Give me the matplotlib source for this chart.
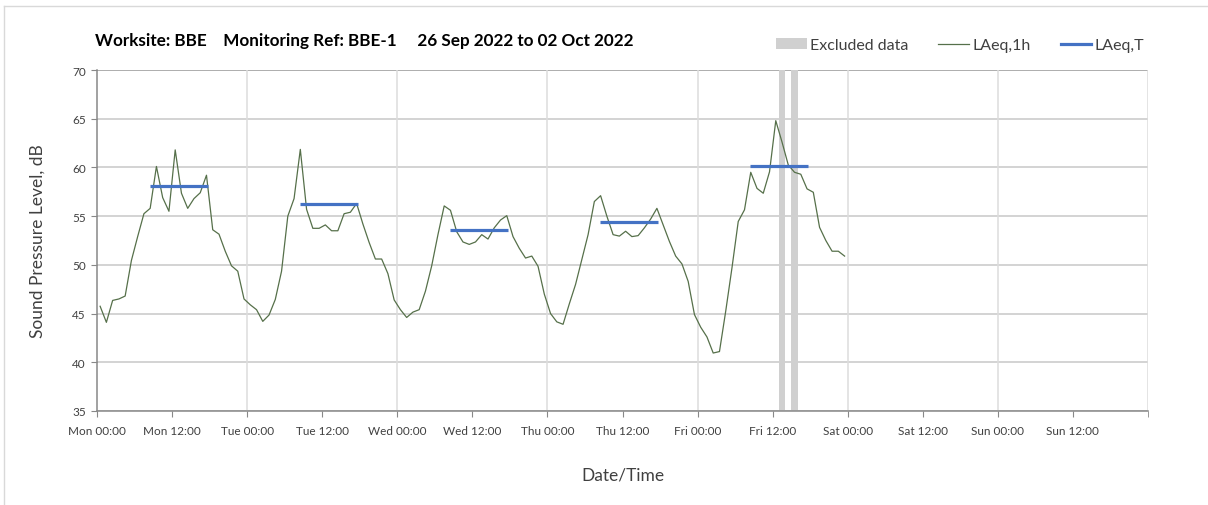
import numpy as np
import matplotlib
matplotlib.use('Agg')
from matplotlib import pyplot as plt
from matplotlib.lines import Line2D
from matplotlib.patches import Patch

plt.rcParams['font.family'] = ['Lato', 'DejaVu Sans']

# hourly LAeq values, Mon 00:00 -> Sat 00:00 (plotted mid-hour)
laeq_1h = [
    45.75, 44.1, 46.35, 46.5, 46.8, 50.45, 52.9, 55.25, 55.8, 60.1, 56.9, 55.5,
    61.8, 57.35, 55.8, 56.8, 57.4, 59.2, 53.6, 53.15, 51.4, 49.9, 49.35, 46.5,
    45.9, 45.4, 44.2, 44.85, 46.45, 49.35, 55.0, 56.8, 61.85, 55.7, 53.75, 53.75,
    54.1, 53.5, 53.5, 55.25, 55.4, 56.3, 54.2, 52.3, 50.6, 50.6, 49.1, 46.4,
    45.4, 44.6, 45.15, 45.4, 47.3, 49.9, 53.1, 56.05, 55.6, 53.4, 52.35, 52.1,
    52.35, 53.1, 52.65, 53.8, 54.6, 55.05, 52.9, 51.7, 50.7, 50.9, 49.85, 47.0,
    45.0, 44.15, 43.9, 46.0, 48.0, 50.55, 53.1, 56.5, 57.1, 55.0, 53.1, 52.95,
    53.45, 52.9, 53.0, 53.8, 54.7, 55.8, 54.1, 52.4, 50.9, 50.1, 48.3, 44.9,
    43.6, 42.6, 40.95, 41.1, 45.25, 49.7, 54.45, 55.65, 59.5, 57.85, 57.35, 59.55,
    64.8, 62.6, 60.25, 59.5, 59.3, 57.8, 57.45, 53.85, 52.5, 51.4, 51.4, 50.9,
]

# daytime LAeq,T per day
laeqT_day = [0, 1, 2, 3, 4]
laeqT_val = [58.1, 56.2, 53.6, 54.4, 60.15]
laeqT_from, laeqT_to = 8.4, 17.7   # hour of day

# excluded periods (hours from Mon 00:00)
excluded = [(109, 110), (111, 112)]

tick_labels = ['Mon 00:00', 'Mon 12:00', 'Tue 00:00', 'Tue 12:00', 'Wed 00:00',
               'Wed 12:00', 'Thu 00:00', 'Thu 12:00', 'Fri 00:00', 'Fri 12:00',
               'Sat 00:00', 'Sat 12:00', 'Sun 00:00', 'Sun 12:00']

green = '#56704a'
blue = '#4472c4'
grey = '#d0d0d0'
txt = '#404040'

fig = plt.figure(figsize=(12.08, 5.06), dpi=100)
ax = fig.add_axes([97/1208, 1-412/506, (1148-97)/1208, (412-71)/506])

hrs = np.arange(len(laeq_1h)) + 0.5

for a, b in excluded:
    ax.axvspan(a, b, color=grey, lw=0, zorder=1)
ax.plot(hrs, laeq_1h, color=green, lw=0.9, zorder=3)
for d, v in zip(laeqT_day, laeqT_val):
    ax.plot([d*24 + laeqT_from, d*24 + laeqT_to], [v, v], color=blue, lw=2.3,
            solid_capstyle='butt', zorder=4)

ax.set_xlim(0, 168)
ax.set_ylim(35, 70)
ax.set_yticks(np.arange(35, 71, 5))
ax.set_xticks(np.arange(0, 168, 12))
ax.set_xticklabels(tick_labels)
ax.set_xticks([168], minor=True)
ax.tick_params(axis='x', which='both', direction='out', length=4, color='#888888',
               labelsize=8.5, labelcolor=txt, pad=6)
ax.tick_params(axis='y', direction='out', length=4, color='#888888',
               labelsize=8.5, labelcolor=txt, pad=4)

for y in range(35, 71, 5):
    ax.axhline(y, color='#c8c8c8', lw=1.1, zorder=0)
ax.axhline(70, color='#a8a8a8', lw=1.2, zorder=0)
for x in range(24, 169, 24):
    ax.axvline(x, color='#dcdcdc', lw=1.1, zorder=0)

for s in ['top', 'right']:
    ax.spines[s].set_visible(False)
for s in ['left', 'bottom']:
    ax.spines[s].set_color('#888888')
    ax.spines[s].set_linewidth(1.1)

ax.set_xlabel('Date/Time', fontsize=12.5, color=txt, labelpad=22)
ax.set_ylabel('Sound Pressure Level, dB', fontsize=12.5, color=txt, labelpad=19)

fig.text(95/1208, 1-41/506,
         'Worksite: BBE    Monitoring Ref: BBE-1     26 Sep 2022 to 02 Oct 2022',
         fontsize=12.3, fontweight='bold', va='center', ha='left', color='black')

handles = [Patch(facecolor=grey, edgecolor='none', label='Excluded data'),
           Line2D([], [], color=green, lw=0.9, label='LAeq,1h'),
           Line2D([], [], color=blue, lw=2.3, label='LAeq,T')]
leg = fig.legend(handles=handles, loc='center', bbox_to_anchor=(960/1208, 1-46/506),
                 ncol=3, frameon=False, fontsize=11.5, handlelength=1.9,
                 handletextpad=0.2, columnspacing=1.9)
for t in leg.get_texts():
    t.set_color(txt)

# chart area border
fig.add_artist(Line2D([4/1208, 4/1208], [0, 1-7/506], color='#d9d9d9', lw=1))
fig.add_artist(Line2D([4/1208, 1], [1-7/506, 1-7/506], color='#d9d9d9', lw=1))

fig.savefig('out.png', dpi=100)
